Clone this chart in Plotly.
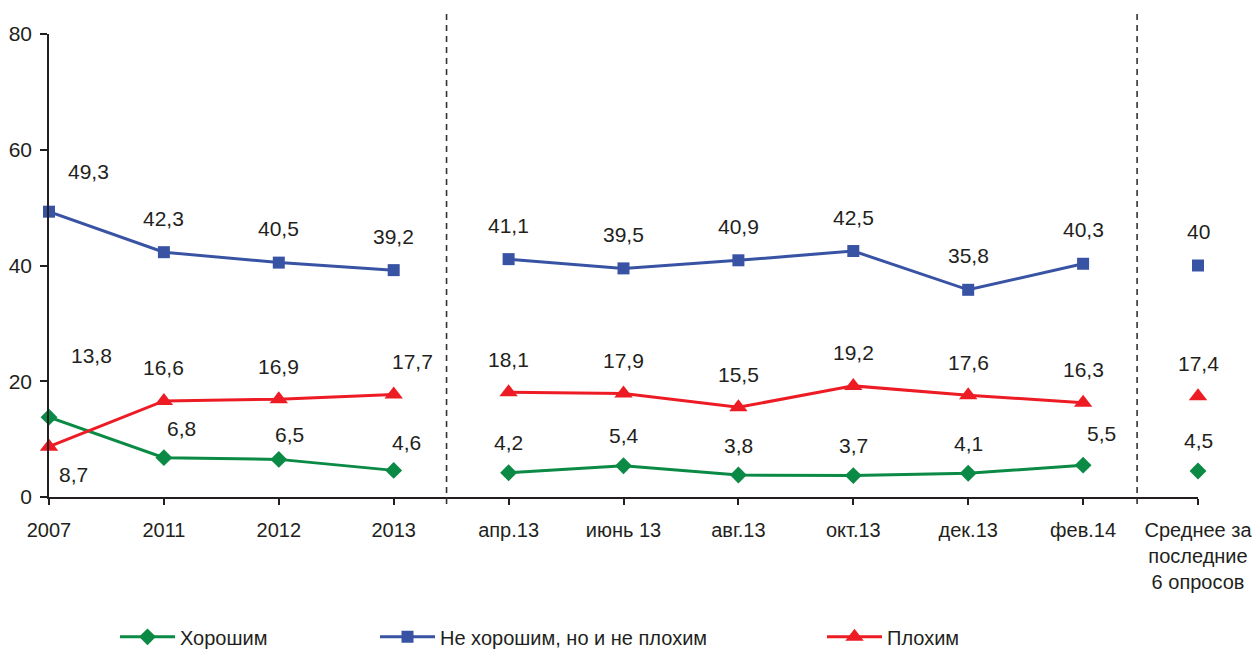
import plotly.graph_objects as go

# ---- data ----
cat_years = ["2007", "2011", "2012", "2013"]
cat_surveys = ["апр.13", "июнь 13", "авг.13", "окт.13", "дек.13", "фев.14"]
cat_avg = ["Среднее за<br>последние<br>6 опросов"]

good_years = [13.8, 6.8, 6.5, 4.6]
good_surveys = [4.2, 5.4, 3.8, 3.7, 4.1, 5.5]
good_avg = [4.5]

neutral_years = [49.3, 42.3, 40.5, 39.2]
neutral_surveys = [41.1, 39.5, 40.9, 42.5, 35.8, 40.3]
neutral_avg = [40]

bad_years = [8.7, 16.6, 16.9, 17.7]
bad_surveys = [18.1, 17.9, 15.5, 19.2, 17.6, 16.3]
bad_avg = [17.4]

series_names = ["Хорошим", "Не хорошим, но и не плохим", "Плохим"]
y_ticks = [0, 20, 40, 60, 80]

# ---- styling ----
FONT = "Liberation Sans, Arial, sans-serif"
TXT = "#231F20"
colors = {"good": "#0B8A45", "neutral": "#3953A4", "bad": "#ED1C24"}
symbols = {"good": "diamond", "neutral": "square", "bad": "triangle-up"}
msizes = {"good": 13, "neutral": 12, "bad": 16}
default_shift = {"good": (0, 30), "neutral": (0, 34), "bad": (0, 33)}
label_overrides = {
    ("neutral", 0): (39, 40),
    ("good", 0): (42, 62),
    ("bad", 0): (24, -28),
    ("good", 1): (18, 29),
    ("good", 2): (11, 25),
    ("good", 3): (13, 28),
    ("bad", 3): (19, 33),
    ("good", 9): (18, 32),
}

categories = cat_years + cat_surveys + cat_avg
groups = [len(cat_years), len(cat_surveys), len(cat_avg)]


def build(parts):
    xs, ys = [], []
    idx = 0
    for g, vals in zip(groups, parts):
        if xs:
            xs.append(None)
            ys.append(None)
        for v in vals:
            xs.append(idx)
            ys.append(v)
            idx += 1
    return xs, ys


def fmt(v):
    return f"{v:g}".replace(".", ",")


data = {
    "good": (good_years, good_surveys, good_avg),
    "neutral": (neutral_years, neutral_surveys, neutral_avg),
    "bad": (bad_years, bad_surveys, bad_avg),
}

fig = go.Figure()
annotations = []
legend_ids = {"good": "legend", "neutral": "legend2", "bad": "legend3"}
for (key, parts), name in zip(data.items(), series_names):
    xs, ys = build(parts)
    fig.add_trace(go.Scatter(
        x=xs, y=ys, name=name, mode="lines+markers",
        line=dict(color=colors[key], width=3),
        marker=dict(symbol=symbols[key], size=msizes[key], color=colors[key]),
        connectgaps=False, cliponaxis=False, showlegend=True,
        legend=legend_ids[key],
    ))
    for x, y in zip(xs, ys):
        if x is None:
            continue
        dx, dy = label_overrides.get((key, x), default_shift[key])
        annotations.append(dict(
            x=x, y=y, xref="x", yref="y", text=fmt(y), showarrow=False,
            xshift=dx, yshift=dy, font=dict(family=FONT, size=21, color=TXT),
        ))

shapes = []
for sep in (3.46, 9.47):
    shapes.append(dict(
        type="line", xref="x", yref="paper", x0=sep, x1=sep, y0=-0.015, y1=1.045,
        line=dict(color="#333333", width=1.6, dash="6px,5px"),
    ))

W, H = 1255, 650
L, R, T, B = 49, 57, 34, 153
PW = W - L - R

leg_common = dict(orientation="h", yanchor="middle", y=-0.302, xanchor="left",
                  font=dict(family=FONT, size=20, color=TXT),
                  bgcolor="rgba(0,0,0,0)", itemwidth=55)

fig.update_layout(
    width=W, height=H,
    margin=dict(l=L, r=R, t=T, b=B, autoexpand=False),
    paper_bgcolor="white", plot_bgcolor="white",
    font=dict(family=FONT, size=20, color=TXT),
    showlegend=True,
    annotations=annotations, shapes=shapes,
    legend=dict(x=(115 - L) / PW, **leg_common),
    legend2=dict(x=(375 - L) / PW, **leg_common),
    legend3=dict(x=(822 - L) / PW, **leg_common),
    xaxis=dict(
        range=[0, 10], tickmode="array", tickvals=list(range(len(categories))),
        ticktext=categories, showgrid=False, zeroline=False,
        showline=True, linecolor="#231F20", linewidth=1.5,
        ticks="outside", ticklen=6, tickcolor="#231F20", tickwidth=1.5,
        tickfont=dict(family=FONT, size=20, color=TXT), ticklabelstandoff=8,
        automargin=False,
    ),
    yaxis=dict(
        range=[0, 80], tickvals=y_ticks, showgrid=False, zeroline=False,
        showline=True, linecolor="#231F20", linewidth=1.5,
        ticks="outside", ticklen=7, tickcolor="#231F20", tickwidth=1.5,
        tickfont=dict(family=FONT, size=21, color=TXT), ticklabelstandoff=4,
        automargin=False,
    ),
)

fig.write_html(
    "out.html",
    config={"displayModeBar": False},
    post_script="document.body.style.margin='0';document.body.style.overflow='hidden';",
)
